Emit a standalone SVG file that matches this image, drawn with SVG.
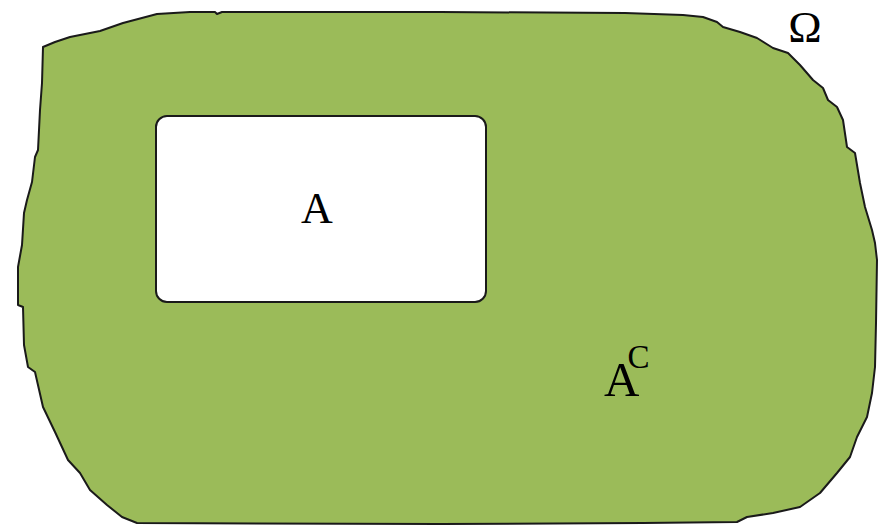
<svg xmlns="http://www.w3.org/2000/svg" width="883" height="525" viewBox="0 0 883 525">
  <style>
    .outline { stroke: #1a1a1a; stroke-width: 2; stroke-linejoin: round; }
    .label { font-family: "Liberation Serif", "Times New Roman", serif; fill: #000; }
  </style>
  <rect x="0" y="0" width="883" height="525" fill="#ffffff"/>
  <g id="omega">
    <path class="outline" fill="#9BBB59" d="M43,47 L55,42 L70,37 L100,31 L123,23 L157,14 L190,12 L215,12 L217,14 L222,12 L440,12 L625,13 L683,15 L703,17 L717,22 L723,27 L740,32 L757,38 L773,48 L788,53 L800,65 L813,80 L823,88 L828,100 L837,107 L843,120 L847,147 L855,153 L860,183 L865,207 L872,230 L875,243 L877,260 L876,323 L875,367 L872,393 L867,417 L857,437 L850,457 L837,473 L820,493 L800,507 L773,513 L747,517 L737,522 L643,523 L440,524 L137,523 L122,517 L107,505 L90,490 L80,473 L68,460 L55,432 L43,407 L35,372 L28,367 L24,345 L23,307 L18,305 L18,267 L22,245 L24,213 L27,200 L32,182 L35,157 L38,150 L40,110 L42,83 Z"/>
    <text class="label" x="805" y="42" font-size="45" text-anchor="middle">Ω</text>
  </g>
  <g id="set-A">
    <rect class="outline" x="156" y="116" width="330" height="186" rx="11" ry="11" fill="#ffffff"/>
    <text class="label" x="317" y="223" font-size="44" text-anchor="middle">A</text>
  </g>
  <g id="complement-label">
    <text class="label" x="604" y="396" font-size="49">A<tspan dx="-12" dy="-28" font-size="33">C</tspan></text>
  </g>
</svg>
